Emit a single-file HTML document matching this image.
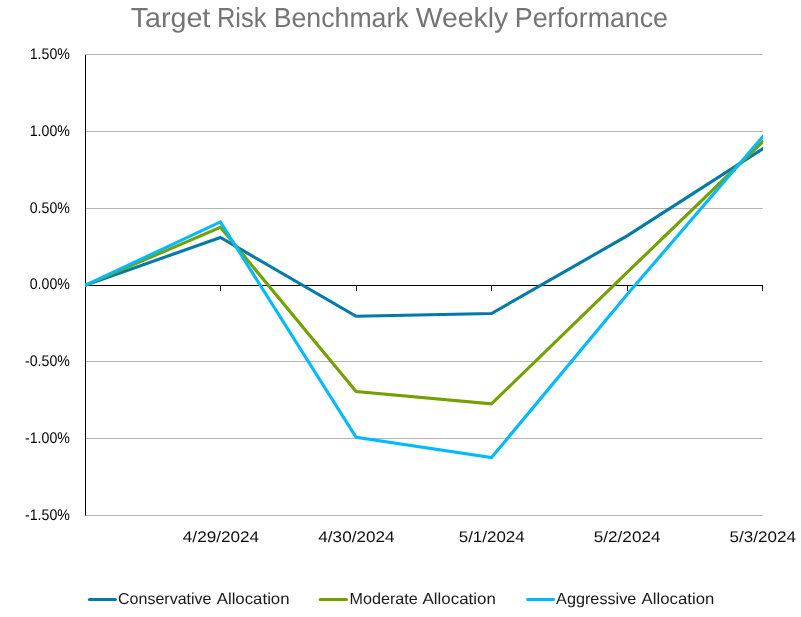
<!DOCTYPE html>
<html><head><meta charset="utf-8"><title>Target Risk Benchmark Weekly Performance</title>
<style>
html,body{margin:0;padding:0;background:#fff;}
body{width:801px;height:617px;overflow:hidden;}
svg{display:block;}
text{font-family:"Liberation Sans",sans-serif;text-rendering:geometricPrecision;}
.t{font-size:27.5px;fill:#757575;}
.y{font-size:14px;fill:#000;}
.x{font-size:16px;fill:#0d0d0d;}
.l{font-size:16px;fill:#1a1a1a;}
</style></head><body>
<svg width="801" height="617" viewBox="0 0 801 617">
<rect width="801" height="617" fill="#fff"/>
<text class="t" y="26.9"><tspan x="130.68" textLength="79.62" lengthAdjust="spacingAndGlyphs">Target</tspan> <tspan x="216.92" textLength="49.47" lengthAdjust="spacingAndGlyphs">Risk</tspan> <tspan x="273.72" textLength="134.97" lengthAdjust="spacingAndGlyphs">Benchmark</tspan> <tspan x="415.84" textLength="92.33" lengthAdjust="spacingAndGlyphs">Weekly</tspan> <tspan x="514.81" textLength="153.14" lengthAdjust="spacingAndGlyphs">Performance</tspan></text>
<text class="x" transform="translate(0,541.9) scale(1,0.96)"><tspan x="182.83" textLength="76.34" lengthAdjust="spacingAndGlyphs">4/29/2024</tspan></text>
<text class="x" transform="translate(0,541.9) scale(1,0.96)"><tspan x="318.33" textLength="76.24" lengthAdjust="spacingAndGlyphs">4/30/2024</tspan></text>
<text class="x" transform="translate(0,541.9) scale(1,0.96)"><tspan x="458.71" textLength="65.96" lengthAdjust="spacingAndGlyphs">5/1/2024</tspan></text>
<text class="x" transform="translate(0,541.9) scale(1,0.96)"><tspan x="593.80" textLength="66.67" lengthAdjust="spacingAndGlyphs">5/2/2024</tspan></text>
<text class="x" transform="translate(0,541.9) scale(1,0.96)"><tspan x="729.50" textLength="66.37" lengthAdjust="spacingAndGlyphs">5/3/2024</tspan></text>
<text class="l" transform="translate(0,604.0) scale(1,0.99)"><tspan x="118.05" textLength="93.38" lengthAdjust="spacingAndGlyphs">Conservative</tspan> <tspan x="216.70" textLength="72.88" lengthAdjust="spacingAndGlyphs">Allocation</tspan></text>
<text class="l" transform="translate(0,604.0) scale(1,0.99)"><tspan x="349.44" textLength="68.32" lengthAdjust="spacingAndGlyphs">Moderate</tspan> <tspan x="422.60" textLength="73.19" lengthAdjust="spacingAndGlyphs">Allocation</tspan></text>
<text class="l" transform="translate(0,604.0) scale(1,0.99)"><tspan x="556.10" textLength="80.27" lengthAdjust="spacingAndGlyphs">Aggressive</tspan> <tspan x="641.60" textLength="72.68" lengthAdjust="spacingAndGlyphs">Allocation</tspan></text>
<line x1="85" x2="762.8" y1="54.5" y2="54.5" stroke="#b5b5b5" stroke-width="1"/>
<line x1="85" x2="762.8" y1="131.5" y2="131.5" stroke="#b5b5b5" stroke-width="1"/>
<line x1="85" x2="762.8" y1="208.5" y2="208.5" stroke="#b5b5b5" stroke-width="1"/>
<line x1="85" x2="762.8" y1="361.5" y2="361.5" stroke="#b5b5b5" stroke-width="1"/>
<line x1="85" x2="762.8" y1="438.5" y2="438.5" stroke="#b5b5b5" stroke-width="1"/>
<line x1="85" x2="762.8" y1="515.5" y2="515.5" stroke="#b5b5b5" stroke-width="1"/>
<clipPath id="c"><rect x="85" y="40" width="678" height="490"/></clipPath>
<line x1="85.5" x2="85.5" y1="55" y2="515.6" stroke="#000" stroke-width="1"/>
<line x1="85" x2="763" y1="285.5" y2="285.5" stroke="#000" stroke-width="1"/>
<line x1="220.5" x2="220.5" y1="285" y2="291" stroke="#000" stroke-width="1"/>
<line x1="356.5" x2="356.5" y1="285" y2="291" stroke="#000" stroke-width="1"/>
<line x1="491.5" x2="491.5" y1="285" y2="291" stroke="#000" stroke-width="1"/>
<line x1="627.5" x2="627.5" y1="285" y2="291" stroke="#000" stroke-width="1"/>
<line x1="762.5" x2="762.5" y1="285" y2="291" stroke="#000" stroke-width="1"/>
<g clip-path="url(#c)" fill="none" stroke-width="3.1" stroke-linejoin="miter" stroke-linecap="butt">
<polyline points="82.00,286.46 220.40,237.45 356.10,316.30 491.50,313.50 627.10,235.90 765.50,146.97" stroke="#0079ab"/>
<polyline points="82.00,286.69 220.40,227.35 356.10,391.50 491.50,403.90 627.10,272.40 765.50,139.11" stroke="#72a100"/>
<polyline points="82.00,286.81 220.40,221.95 356.10,437.40 491.50,457.60 627.10,294.60 765.50,133.51" stroke="#00baff"/>
</g>
<text class="y" text-anchor="end" transform="translate(69.9,58.80) scale(1.012,1.1)">1.50%</text>
<text class="y" text-anchor="end" transform="translate(69.9,135.65) scale(1.012,1.1)">1.00%</text>
<text class="y" text-anchor="end" transform="translate(69.9,212.50) scale(1.012,1.1)">0.50%</text>
<text class="y" text-anchor="end" transform="translate(69.9,289.35) scale(1.012,1.1)">0.00%</text>
<text class="y" text-anchor="end" transform="translate(69.9,366.20) scale(1.012,1.1)">-0.50%</text>
<text class="y" text-anchor="end" transform="translate(69.9,443.05) scale(1.012,1.1)">-1.00%</text>
<text class="y" text-anchor="end" transform="translate(69.9,519.90) scale(1.012,1.1)">-1.50%</text>
<line x1="89.4" x2="115.4" y1="599.5" y2="599.5" stroke="#0079ab" stroke-width="3.1" stroke-linecap="round"/>
<line x1="320.2" x2="346.5" y1="599.5" y2="599.5" stroke="#72a100" stroke-width="3.1" stroke-linecap="round"/>
<line x1="527.6" x2="553.6" y1="599.5" y2="599.5" stroke="#00baff" stroke-width="3.1" stroke-linecap="round"/>
</svg></body></html>
